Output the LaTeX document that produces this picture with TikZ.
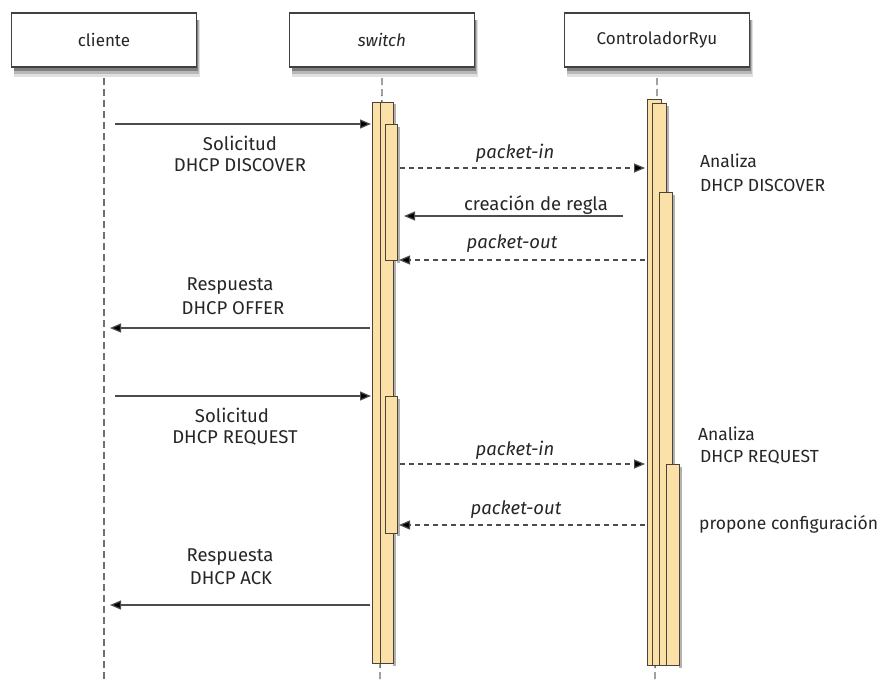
\documentclass[tikz,border=0pt]{standalone}
\usepackage{fontspec}
\setmainfont{Fira Sans}
\usetikzlibrary{arrows.meta}
\definecolor{barfill}{HTML}{FBE0A8}
\definecolor{barline}{HTML}{4A4438}
\definecolor{lifegray}{HTML}{707070}
\tikzset{
  x=1pt, y=-1pt,
  actor/.style={draw=black!75, line width=1.2pt, fill=white, minimum width=185pt, minimum height=54pt,
    font=\fontsize{17}{20}\selectfont, text=black!85},
  lifeline/.style={draw=lifegray, line width=1.4pt, dash pattern=on 7pt off 4pt},
  bar/.style={draw=barline, line width=0.9pt, fill=barfill},
  barshadow/.style={fill=black!30},
  msg/.style={draw=black!70, line width=1.2pt, -{Triangle[length=11pt,width=9pt,fill=black]}},
  ret/.style={msg, dash pattern=on 5pt off 4pt},
  lbl/.style={font=\fontsize{18.5}{22}\selectfont, text=black!85, inner sep=1pt},
  note/.style={lbl, font=\fontsize{17.5}{21}\selectfont, anchor=west},
}
\begin{document}
\begin{tikzpicture}
\useasboundingbox (0,0) rectangle (885,681);
\fill[white] (0,0) rectangle (885,681);

% soft shadows under the participant boxes
\foreach \cx in {104,382,657} {
  \fill[black!12] (\cx-90,20) rectangle (\cx+96,77);
  \fill[black!28] (\cx-90,20) rectangle (\cx+95,74);
  \fill[black!50] (\cx-90,20) rectangle (\cx+94,71);
}

% participants
\node[actor] (cli) at (104,40) {cliente};
\node[actor] (sw) at (382,40) {\itshape switch};
\node[actor] (ctl) at (657,40) {ControladorRyu};

% lifelines
\coordinate (cliEnd) at (104,681);
\coordinate (swEnd) at (380,681);
\coordinate (ctlEnd) at (655,681);
\draw[lifeline] (cli.south |- 0,78) -- (cliEnd);
\draw[lifeline] (sw.south |- 0,78) -- (swEnd);
\draw[lifeline] (ctl.south |- 0,78) -- (ctlEnd);

% activation bars on the switch, with soft shadows on the right
\fill[barshadow] (393,104) rectangle (396,666);
\draw[bar] (372,102) rectangle (386,663);
\draw[bar] (380,102) rectangle (393,663);
\fill[barshadow] (397,127) rectangle (400,263);
\draw[bar] (385,124) rectangle (397,260);
\fill[barshadow] (397,399) rectangle (400,536);
\draw[bar] (385,396) rectangle (397,533);

% activation bars on the controller
\fill[barshadow] (666,106) rectangle (669,195);
\fill[barshadow] (672,195) rectangle (675,467);
\fill[barshadow] (679,467) rectangle (682,668);
\draw[bar] (647,99) rectangle (661,665);
\draw[bar] (652,103) rectangle (666,665);
\draw[bar] (659,192) rectangle (672,665);
\draw[bar] (666,464) rectangle (679,665);

% message anchors
\coordinate (c1) at (115,124);   \coordinate (s1) at (371,124);
\coordinate (s2) at (400,168);   \coordinate (k2) at (645,168);
\coordinate (k3) at (623,216);   \coordinate (s3) at (404,216);
\coordinate (k4) at (645,260);   \coordinate (s4) at (399,260);
\coordinate (s5) at (370,328);   \coordinate (c5) at (110,328);
\coordinate (c6) at (115,396);   \coordinate (s6) at (371,396);
\coordinate (s7) at (400,464);   \coordinate (k7) at (645,464);
\coordinate (k8) at (645,525);   \coordinate (s8) at (399,525);
\coordinate (s9) at (370,605);   \coordinate (c9) at (110,605);

% messages
\draw[msg] (c1) -- (s1);
\draw[ret] (s2) -- (k2);
\draw[msg] (k3) -- (s3);
\draw[ret] (k4) -- (s4);
\draw[msg] (s5) -- (c5);
\draw[msg] (c6) -- (s6);
\draw[ret] (s7) -- (k7);
\draw[ret] (k8) -- (s8);
\draw[msg] (s9) -- (c9);

% message labels
\node[lbl] (l1a) at (240,143) {Solicitud};
\node[lbl] (l1b) at (240,165) {DHCP DISCOVER};
\node[lbl] (l2) at (515,153) {\itshape packet-in};
\node[lbl] (l3) at (536,205) {creación de regla};
\node[lbl] (l4) at (512,244) {\itshape packet-out};
\node[lbl] (l5a) at (230,286) {Respuesta};
\node[lbl] (l5b) at (233,308) {DHCP OFFER};
\node[lbl] (l6a) at (232,415) {Solicitud};
\node[lbl] (l6b) at (235,438) {DHCP REQUEST};
\node[lbl] (l7) at (515,450) {\itshape packet-in};
\node[lbl] (l8) at (516,510) {\itshape packet-out};
\node[lbl] (l9a) at (230,557) {Respuesta};
\node[lbl] (l9b) at (231,578) {DHCP ACK};

% notes beside the controller
\node[note] (n1a) at (699,161) {Analiza};
\node[note] (n1b) at (699,185) {DHCP DISCOVER};
\node[note] (n2a) at (697,434) {Analiza};
\node[note] (n2b) at (699,457) {DHCP REQUEST};
\node[note] (n3) at (698,524) {propone configuración};
\end{tikzpicture}
\end{document}
